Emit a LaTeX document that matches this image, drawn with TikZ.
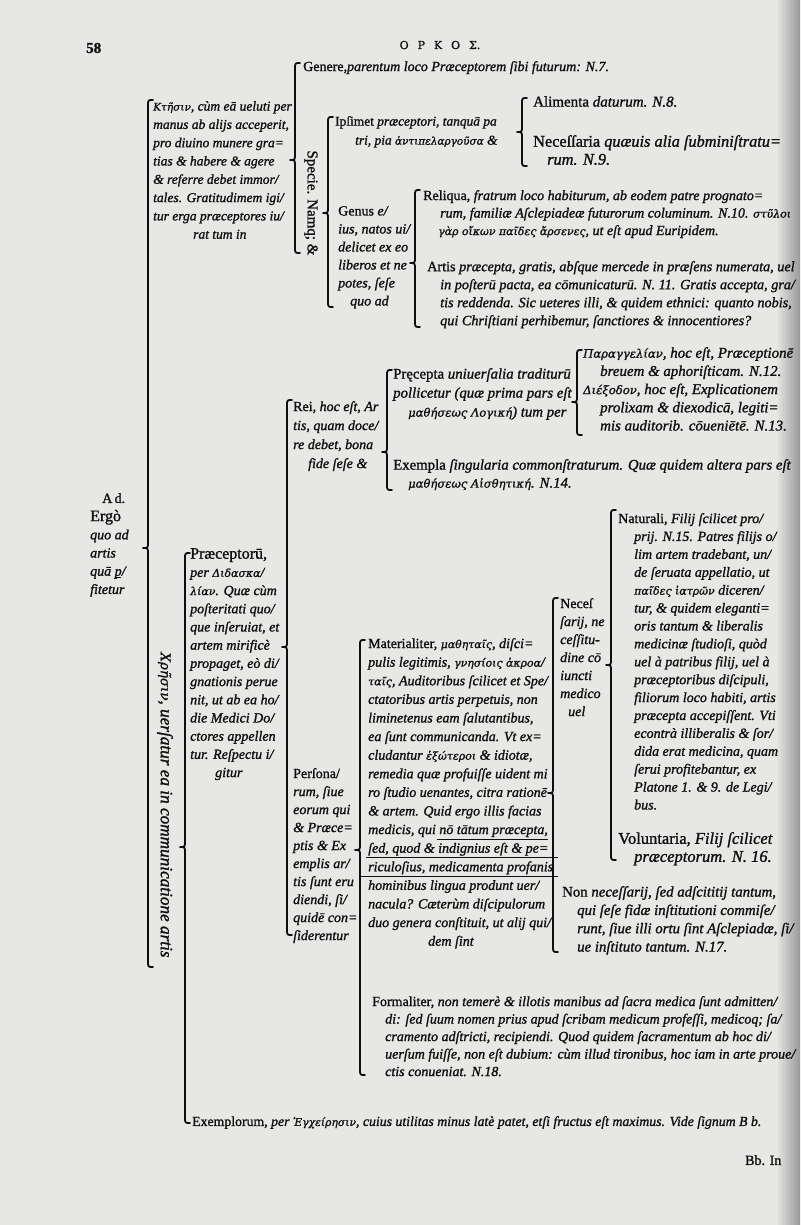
\documentclass[tikz,border=0pt]{standalone}
\usepackage{fontspec}
\setmainfont{Liberation Serif}[FakeBold=1.3, ItalicFeatures={FakeBold=1.3}]
\newfontfamily\grfont[Scale=0.78, FakeBold=1.2, ItalicFeatures={FakeBold=1.2}]{DejaVu Serif}
\newcommand\gr[1]{{\grfont #1}}
\newcommand\pstroke{\makebox[0pt][l]{\raisebox{-0.13em}{\rule{0.48em}{0.06em}}}p}
\definecolor{paper}{RGB}{231,231,229}
\definecolor{ink}{RGB}{15,15,15}
\tikzset{
  txt/.style={anchor=north west, inner sep=0pt, align=left, text=ink, font=\fontsize{14}{18.2}\selectfont\itshape},
  brk/.style={draw=ink, line width=1.8pt, line cap=round, line join=round},
  rule/.style={draw=ink, line width=0.9pt}
}
\newcommand\bkt[4]{\draw[brk] ({#1+5},#2) .. controls (#1,#2) .. (#1,{#2+6}) -- (#1,{#3-6}) .. controls (#1,#3) .. ({#1-5},#3) .. controls (#1,#3) .. (#1,{#3+6}) -- (#1,{#4-6}) .. controls (#1,#4) .. ({#1+5},#4);}
\begin{document}
\begin{tikzpicture}[x=1pt,y=-1pt]
\fill[paper] (0,0) rectangle (800,1225);
\shade[left color=paper, right color=black!40] (776,0) rectangle (800,1225);
\useasboundingbox (0,0) rectangle (800,1225);

% header
\node[txt, anchor=west, font=\fontsize{15}{18}\selectfont\bfseries] (pg) at (86,48) {58};
\node[txt, anchor=center, font=\fontsize{14}{16}\selectfont\grfont] (hd) at (440,45) {Ο\hspace{9pt}Ρ\hspace{9pt}Κ\hspace{9pt}Ο\hspace{9pt}Σ.};

% level 0
\node[txt, anchor=north west] (ad) at (90,493) {\hspace*{12pt}\upshape A\,d.\\ \upshape\fontsize{16}{18}\selectfont Ergò\\ quo ad\\ artis\\ quā \pstroke/\\ fitetur};
\bkt{148}{100}{548}{967}

% Ktesis branch
\node[txt, font=\fontsize{13.5}{18.3}\selectfont\itshape] (kt) at (153,101) {\gr{Κτῆσιν}, cùm eā ueluti per\\ manus ab alijs acceperit,\\ pro diuino munere gra=\\ tias \& habere \& agere\\ \& referre debet immor/\\ tales. Gratitudimem igi/\\ tur erga præceptores iu/\\ \hspace*{40pt}rat tum in};
\bkt{295}{63}{160}{253}
\node[txt] (gen) at (303,61) {\upshape Genere,\itshape parentum loco Præceptorem ſibi futurum: N.7.};
\node[txt, anchor=center, rotate=-90, font=\fontsize{15}{16}\selectfont\upshape] (sp) at (311,203) {Specie. Namq; \&};
\bkt{328}{117}{213}{307}
\node[txt, font=\fontsize{13.4}{19}\selectfont\itshape] (ips) at (335,116) {\upshape Ipſimet \itshape præceptori, tanquā pa\\ \hspace*{20pt}tri, pia \gr{ἀντιπελαργοῦσα} \&};
\bkt{522}{98}{132}{166}
\node[txt, font=\fontsize{15}{18}\selectfont\itshape] (ali) at (533,96) {\upshape Alimenta \itshape daturum. N.8.};
\node[txt, font=\fontsize{16.3}{18}\selectfont\itshape] (nec) at (533,135) {\upshape Neceſſaria \itshape quæuis alia ſubminiſtratu=\\ \hspace*{14pt}rum. N.9.};
\node[txt, font=\fontsize{14}{18}\selectfont\itshape] (gns) at (338,206) {\upshape Genus \itshape e/\\ ius, natos ui/\\ delicet ex eo\\ liberos et ne\\ potes, ſeſe\\ \hspace*{12pt}quo ad};
\bkt{415}{190}{263}{327}
\node[txt, font=\fontsize{14}{17.5}\selectfont\itshape] (rel) at (423,190) {\upshape Reliqua, \itshape fratrum loco habiturum, ab eodem patre prognato=\\ \hspace*{17pt}rum, familiæ Aſclepiadeæ futurorum columinum. N.10. \gr{στῦλοι}\\ \hspace*{15pt}\gr{γὰρ οἴκων παῖδες ἄρσενες}, ut eſt apud Euripidem.};
\node[txt, font=\fontsize{14.2}{18}\selectfont\itshape] (art) at (427,261) {\upshape Artis \itshape præcepta, gratis, abſque mercede in præſens numerata, uel\\ \hspace*{13pt}in poſterū pacta, ea cōmunicaturū. N. 11. Gratis accepta, gra/\\ \hspace*{13pt}tis reddenda. Sic ueteres illi, \& quidem ethnici: quanto nobis,\\ \hspace*{13pt}qui Chriſtiani perhibemur, ſanctiores \& innocentiores?};

% Chresis branch
\node[txt, anchor=center, rotate=-90, font=\fontsize{17.2}{18}\selectfont\itshape] (chr) at (165,805) {\gr{Χρῆσιν}, uerſatur ea in communicatione artis};
\bkt{185}{553}{847}{1123}
\node[txt] (prc) at (190,548) {\upshape\fontsize{16}{18.2}\selectfont Præceptorū,\\ per \gr{Διδασκα}/\\ \gr{λίαν}. Quæ cùm\\ poſteritati quo/\\ que inſeruiat, et\\ artem mirificè\\ propaget, eò di/\\ gnationis perue\\ nit, ut ab ea ho/\\ die Medici Do/\\ ctores appellen\\ tur. Reſpectu i/\\ \hspace*{25pt}gitur};
\bkt{287}{400}{647}{935}
\node[txt, font=\fontsize{14}{19}\selectfont\itshape] (rei) at (293,401) {\upshape Rei, \itshape hoc eſt, Ar\\ tis, quam doce/\\ re debet, bona\\ \hspace*{15pt}fide ſeſe \&};
\bkt{387}{370}{452}{490}
\node[txt, font=\fontsize{14.8}{19}\selectfont\itshape] (pre) at (393,368) {\upshape Pręcepta \itshape uniuerſalia traditurū\\ pollicetur (quæ prima pars eſt\\ \hspace*{15pt}\gr{μαθήσεως Λογική}) tum per};
\bkt{577}{350}{402}{435}
\node[txt, font=\fontsize{14.9}{18.2}\selectfont\itshape] (par) at (583,347) {\gr{Παραγγελίαν}, hoc eſt, Præceptionē\\ \hspace*{17pt}breuem \& aphoriſticam. N.12.\\ \gr{Διέξοδον}, hoc eſt, Explicationem\\ \hspace*{17pt}prolixam \& diexodicā, legiti=\\ \hspace*{17pt}mis auditorib. cōueniētē. N.13.};
\node[txt, font=\fontsize{14.8}{18}\selectfont\itshape] (exa) at (393,459) {\upshape Exempla \itshape ſingularia commonſtraturum. Quæ quidem altera pars eſt\\ \hspace*{15pt}\gr{μαθήσεως Αἰσθητική}. N.14.};

\node[txt, font=\fontsize{14}{18}\selectfont\itshape] (per) at (293,768) {\upshape Perſona/\\ rum, ſiue\\ eorum qui\\ \& Præce=\\ ptis \& Ex\\ emplis ar/\\ tis ſunt eru\\ diendi, ſi/\\ quidē con=\\ ſiderentur};
\bkt{360}{640}{850}{1075}
\node[txt, font=\fontsize{14}{18.6}\selectfont\itshape] (mat) at (368,638) {\upshape Materialiter, \itshape\gr{μαθηταῖς}, diſci=\\ pulis legitimis, \gr{γνησίοις ἀκροα}/\\ \gr{ταῖς}, Auditoribus ſcilicet et Spe/\\ ctatoribus artis perpetuis, non\\ liminetenus eam ſalutantibus,\\ ea ſunt communicanda. Vt ex=\\ cludantur \gr{ἐξώτεροι} \& idiotæ,\\ remedia quæ profuiſſe uident mi\\ ro ſtudio uenantes, citra rationē\\ \& artem. Quid ergo illis facias\\ medicis, qui nō tātum præcepta,\\ ſed, quod \& indignius eſt \& pe=\\ riculoſius, medicamenta profanis\\ hominibus lingua produnt uer/\\ nacula? Cæterùm diſcipulorum\\ duo genera conſtituit, ut alij qui/\\ \hspace*{60pt}dem ſint};
\draw[rule] (437,839) -- (548,839);
\draw[rule] (366,857.5) -- (558,857.5);
\draw[rule] (361,876) -- (558,876);
\bkt{553}{598}{793}{952}
\node[txt, font=\fontsize{14}{18}\selectfont\itshape] (nes) at (560,598) {\upshape Neceſ\\ ſarij, ne\\ ceſſitu-\\ dine cō\\ iuncti\\ medico\\ \hspace*{8pt}uel};
\bkt{611}{510}{665}{860}
\node[txt, font=\fontsize{14}{17.9}\selectfont\itshape] (nat) at (618,513) {\upshape Naturali, \itshape Filij ſcilicet pro/\\ \hspace*{16pt}prij. N.15. Patres filijs o/\\ \hspace*{16pt}lim artem tradebant, un/\\ \hspace*{16pt}de ſeruata appellatio, ut\\ \hspace*{16pt}\gr{παῖδες ἰατρῶν} diceren/\\ \hspace*{16pt}tur, \& quidem eleganti=\\ \hspace*{16pt}oris tantum \& liberalis\\ \hspace*{16pt}medicinæ ſtudioſi, quòd\\ \hspace*{16pt}uel à patribus filij, uel à\\ \hspace*{16pt}præceptoribus diſcipuli,\\ \hspace*{16pt}filiorum loco habiti, artis\\ \hspace*{16pt}præcepta accepiſſent. Vti\\ \hspace*{16pt}econtrà illiberalis \& ſor/\\ \hspace*{16pt}dida erat medicina, quam\\ \hspace*{16pt}ſerui profitebantur, ex\\ \hspace*{16pt}Platone 1. \& 9. de Legi/\\ \hspace*{16pt}bus.};
\node[txt, font=\fontsize{16.5}{18}\selectfont\itshape] (vol) at (618,832) {\upshape Voluntaria, \itshape Filij ſcilicet\\ \hspace*{16pt}præceptorum. N. 16.};
\node[txt, font=\fontsize{14.8}{18.3}\selectfont\itshape] (non) at (562,886) {\upshape Non \itshape neceſſarij, ſed adſcititij tantum,\\ \hspace*{15pt}qui ſeſe fidæ inſtitutioni commiſe/\\ \hspace*{15pt}runt, ſiue illi ortu ſint Aſclepiadæ, ſi/\\ \hspace*{15pt}ue inſtituto tantum. N.17.};
\node[txt, font=\fontsize{14}{17.5}\selectfont\itshape] (frm) at (372,996) {\upshape Formaliter, \itshape non temerè \& illotis manibus ad ſacra medica ſunt admitten/\\ \hspace*{13pt}di: ſed ſuum nomen prius apud ſcribam medicum profeſſi, medicoq; ſa/\\ \hspace*{13pt}cramento adſtricti, recipiendi. Quod quidem ſacramentum ab hoc di/\\ \hspace*{13pt}uerſum fuiſſe, non eſt dubium: cùm illud tironibus, hoc iam in arte proue/\\ \hspace*{13pt}ctis conueniat. N.18.};
\node[txt, font=\fontsize{13.8}{18}\selectfont\itshape] (exm) at (192,1116) {\upshape Exemplorum, \itshape per \gr{Ἐγχείρησιν}, cuius utilitas minus latè patet, etſi fructus eſt maximus. Vide ſignum B b.};
\node[txt, font=\fontsize{14}{18}\selectfont\upshape] (cw) at (745,1155) {Bb. In};
\end{tikzpicture}
\end{document}
